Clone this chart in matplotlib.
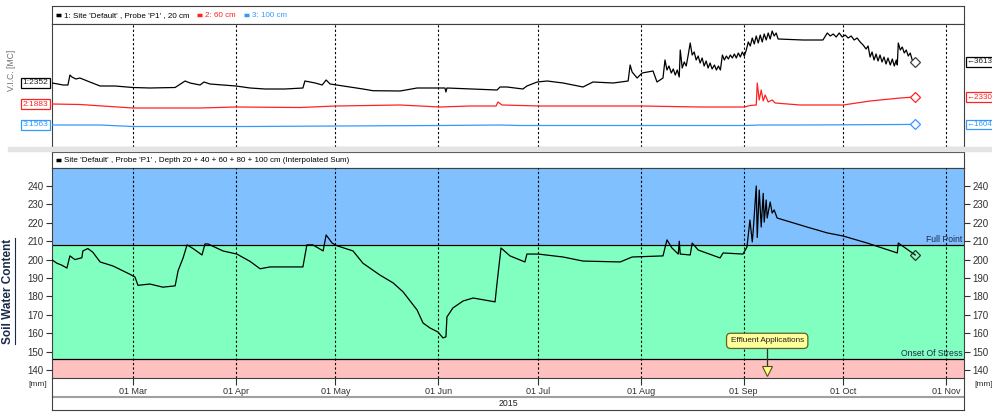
import matplotlib
matplotlib.use("Agg")
import matplotlib.pyplot as plt
import matplotlib.transforms as mtransforms
from matplotlib.lines import Line2D
from matplotlib.patches import Rectangle
import numpy as np

plt.rcParams['font.family'] = ['Liberation Sans', 'DejaVu Sans']
plt.rcParams['font.size'] = 7

W, H = 992, 412

# x axis is day of year 2015 (1 Jan = 0)
month_days = [59, 90, 120, 151, 181, 212, 243, 273, 304]
month_labels = ["01 Mar", "01 Apr", "01 May", "01 Jun", "01 Jul", "01 Aug", "01 Sep", "01 Oct", "01 Nov"]
x_start, x_end = 34.6, 309.4
year_label = "2015"

# top panel: V.I.C. readings per depth
vic20_days = [34.6, 36.4, 37.9, 39.4, 40.0, 40.6, 41.8, 43.0, 44.5, 46.0, 49.1, 53.6, 59.0, 64.1,
              71.7, 74.7, 76.2, 79.2, 80.4, 82.2, 90.0, 94.3, 98.8, 104.8, 110.2, 110.8, 113.9,
              116.0, 117.2, 118.4, 128.3, 131.3, 139.5, 144.6, 151.5, 153.0, 153.3, 153.6, 168.7,
              169.6, 171.7, 176.5, 177.7, 180.8, 183.8, 188.6, 194.6, 197.6, 203.7, 208.2, 208.8,
              209.4, 210.9, 212.4, 215.7, 216.9,
              217.8, 218.7, 219.3, 219.9, 220.5, 221.2, 221.8, 222.4, 223.0, 223.6, 223.9, 224.5,
              225.1, 225.7, 226.3, 226.9, 227.5, 228.1, 228.7, 229.3, 229.9, 230.5, 231.1, 231.7,
              232.3, 232.9, 233.5, 234.2, 234.8, 235.4, 236.0, 236.6, 237.2, 237.8, 238.4, 239.0,
              239.6, 240.2, 240.8, 241.4, 242.0, 242.6, 243.2, 243.8, 244.4, 245.0, 245.6, 246.2,
              246.8, 247.4, 248.0, 248.6, 249.2, 249.8, 250.4, 251.0, 251.6, 252.2, 252.8, 253.4,
              260.9, 266.9, 268.2, 269.1, 270.0, 270.9, 271.8, 272.7, 273.6, 274.5, 275.4, 276.3,
              277.2, 278.1, 279.0, 279.9, 280.5, 281.1, 281.7, 282.3, 282.9, 283.5, 284.1, 284.7,
              285.3, 285.9, 286.5, 287.2, 287.8, 288.4, 289.0, 289.3, 289.6, 290.2, 290.8, 291.4,
              292.0, 292.6, 293.2, 293.8, 294.7]
vic20 = [2352, 2292, 2232, 2232, 2832, 2712, 2592, 2652, 2532, 2412, 2172, 2172, 2082, 2052,
         2082, 2472, 2352, 2232, 2412, 2292, 2172, 2052, 1992, 1992, 2052, 2472, 2352,
         2232, 2532, 2292, 1992, 1890, 1872, 2052, 2052, 2052, 1812, 2052, 1932,
         2112, 2112, 1992, 2172, 2412, 2472, 2352, 2112, 2412, 2352, 2472, 3432,
         3012, 2652, 2952, 3072, 2412,
         2532, 2652, 3732, 3132, 3372, 2952, 3192, 2832, 3132, 2712, 4332, 3252,
         3612, 3372, 4032, 4752, 4032, 4212, 3732, 3972, 3552, 3852, 3372, 3672,
         3252, 3552, 3192, 3432, 3132, 3372, 3132, 4032, 3732, 3972, 3792, 4032,
         3852, 4092, 3852, 4152, 3912, 4212, 3972, 4332, 4812, 4572, 5052, 4692,
         5172, 4752, 5232, 4812, 5292, 4932, 5352, 4992, 5472, 5172, 5352, 4992,
         4932, 4932, 5352, 5172, 5292, 5112, 5352, 5112, 5232, 5052, 5172, 4932,
         5052, 4812, 4632, 4392, 4572, 3912, 4212, 3732, 4092, 3672, 4032, 3612,
         3912, 3492, 3852, 3432, 3792, 3372, 3732, 3432, 4752, 4332, 4512, 4152,
         4332, 3972, 4152, 3732, 3613]

vic60_days = [34.6, 43.0, 59.0, 79.2, 90.0, 109.3, 120.2, 139.5, 151.5, 160.6, 168.4, 169.0,
              170.2, 181.4, 199.5, 212.2, 229.9, 243.2, 245.0, 246.8, 247.1, 247.7, 248.3,
              248.9, 249.5, 250.4, 251.6, 252.5, 260.0, 273.0, 281.1, 290.2, 294.7]
vic60 = [1883, 1851, 1627, 1627, 1691, 1659, 1755, 1819, 1691, 1755, 1755, 2011,
         1819, 1755, 1755, 1755, 1691, 1691, 1787, 1819, 3227, 2139, 2779, 2075,
         2459, 2011, 2139, 1947, 1819, 1819, 2075, 2267, 2330]

vic100_days = [34.6, 49.1, 59.0, 94.3, 120.2, 151.5, 169.6, 175.6, 205.8, 229.9, 243.5, 248.0,
               260.0, 290.2, 294.7]
vic100 = [1563, 1563, 1467, 1467, 1499, 1531, 1563, 1531, 1531, 1531, 1531, 1563,
          1563, 1595, 1604]

# bottom panel: summed soil water content [mm]
sw_days = [34.6, 36.1, 37.5, 39.1, 40.0, 41.5, 43.6, 43.9, 45.4, 46.9, 49.1, 53.0, 58.1, 59.6,
           60.5, 64.1, 68.0, 71.7, 72.6, 74.1, 75.3, 77.1, 79.8, 80.7, 81.6, 86.1, 90.3, 94.3,
           97.3, 100.3, 109.3, 110.2, 111.4, 113.2, 116.3, 117.2, 119.0, 120.5, 125.3, 128.3,
           133.4, 137.4, 140.4, 144.6, 146.4, 148.5, 150.9, 152.4, 153.3, 153.6, 155.4, 158.5,
           161.5, 168.1, 168.7, 169.9, 172.6, 177.1, 177.7, 181.1, 188.6, 194.6, 205.8, 209.4,
           218.7, 219.9, 221.4, 223.3, 223.6, 223.9, 226.9, 227.5, 229.3, 235.9, 236.8, 242.8,
           244.0, 244.9, 245.6, 245.9, 246.8, 247.1, 247.7, 248.3, 248.9, 249.2, 249.8, 250.1,
           251.0, 251.6, 252.2, 253.1, 262.1, 268.2, 273.0, 280.2, 289.3, 289.6, 294.7]
sw = [199.8, 198.0, 197.0, 195.4, 202.0, 200.0, 201.0, 204.7, 206.0, 204.0, 198.7, 196.5, 192.0, 190.5,
      186.0, 186.7, 185.0, 185.7, 194.0, 200.9, 208.0, 206.0, 202.5, 208.5, 208.5, 204.7, 203.0, 199.0,
      195.0, 196.0, 196.0, 196.0, 208.0, 208.0, 204.7, 213.4, 209.0, 207.5, 204.7, 198.0,
      191.6, 187.3, 182.4, 172.6, 165.5, 162.8, 160.6, 157.4, 158.0, 168.8, 173.7, 177.5,
      179.1, 177.0, 187.3, 206.3, 202.0, 198.7, 203.0, 203.0, 201.4, 199.2, 198.7, 201.4,
      202.0, 210.7, 206.3, 203.0, 210.0, 203.0, 202.5, 209.0, 205.2, 200.9, 203.6, 203.0,
      206.8, 221.5, 209.6, 216.0, 240.0, 212.0, 237.8, 217.7, 236.0, 220.4, 232.4, 222.6,
      231.3, 225.3, 227.0, 222.6, 217.7, 214.5, 212.8, 209.0, 203.6, 209.0, 202.5]

full_point = 208
onset_of_stress = 146
sw_ylim = (135.6, 249.8)
sw_ticks = [140, 150, 160, 170, 180, 190, 200, 210, 220, 230, 240]
effluent_day = 250.1

black = "#000000"
red = "#FF2222"
blue = "#3399FF"
frame = "#404040"
navy = "#1A2A4A"


def px_box(x0, y0, x1, y1):
    return [x0 / W, 1 - y1 / H, (x1 - x0) / W, (y1 - y0) / H]


def header(fig, ax, items):
    renderer = fig.canvas.get_renderer()
    ax.set_xlim(0, 912)
    ax.set_ylim(0, 1)
    ax.set_xticks([])
    ax.set_yticks([])
    for s in ax.spines.values():
        s.set_color(frame)
    x = 4
    for label, color in items:
        ax.plot([x, x + 5], [0.5, 0.5], color=color, lw=2.5, solid_capstyle='butt')
        t = ax.text(x + 8, 0.48, label, color=color, va='center', ha='left', fontsize=5.8)
        x = x + 8 + t.get_window_extent(renderer).width + 8


def month_lines(ax):
    for d in month_days:
        ax.axvline(d, color='k', lw=0.8, ls=(0, (2, 2)), zorder=3)


fig = plt.figure(figsize=(W / 100, H / 100), dpi=100)
fig.patches.append(Rectangle((8 / W, 1 - 151 / H), 1, 4 / H, transform=fig.transFigure,
                             color="#E4E4E4", zorder=0))

# ---- top panel ----
hdr1 = fig.add_axes(px_box(52, 6, 964, 24))
header(fig, hdr1, [("1: Site 'Default' , Probe 'P1' , 20 cm", black),
                   ("2: 60 cm", red), ("3: 100 cm", blue)])

ax1 = fig.add_axes(px_box(52, 24, 964, 147))
ax1r = ax1.twinx()
ax1b = ax1.twinx()
series = [(ax1, vic20_days, vic20, black, (-1488, 5892), "1", "#404040"),
          (ax1r, vic60_days, vic60, red, (-869, 7003), "2", red),
          (ax1b, vic100_days, vic100, blue, (155, 8027), "3", blue)]
for ax, days, vals, color, lim, num, mec in series:
    ax.plot(days, vals, color=color, lw=0.9, zorder=4)
    ax.plot(days[-1], vals[-1], marker='D', ms=5, mfc='white', mec=mec, mew=0.9, zorder=5)
    ax.set_ylim(*lim)
    ax.set_yticks([])
    ax.set_xlim(x_start, x_end)
    trans = mtransforms.blended_transform_factory(ax.transAxes, ax.transData)
    tc = color if color != black else '#202020'
    ax.text(-0.004, vals[0], "%s:%d" % (num, vals[0]), transform=trans, ha='right', va='center',
            color=tc, fontsize=6,
            bbox=dict(boxstyle='square,pad=0.2', fc='white', ec=color, lw=0.9))
    ax.text(1.003, vals[-1], "\u2190%d" % vals[-1], transform=trans, ha='left', va='center',
            color=tc, fontsize=5.8,
            bbox=dict(boxstyle='square,pad=0.15', fc='white', ec=color, lw=0.9))
for ax in (ax1r, ax1b):
    for s in ax.spines.values():
        s.set_visible(False)
    ax.tick_params(right=False, labelright=False)
ax1.set_xticks([])
for s in ax1.spines.values():
    s.set_color(frame)
month_lines(ax1)
fig.text(12 / W, 1 - 70 / H, "V.I.C. [MC]", rotation=90, ha='center', va='center',
         color='#707070', fontsize=6.2)

# ---- bottom panel ----
hdr2 = fig.add_axes(px_box(52, 152, 964, 168))
header(fig, hdr2, [("Site 'Default' , Probe 'P1' , Depth 20 + 40 + 60 + 80 + 100 cm (Interpolated Sum)", black)])

strip = fig.add_axes(px_box(52, 378, 964, 410))
strip.set_xticks([])
strip.set_yticks([])
strip.patch.set_visible(False)
strip.spines['top'].set_visible(False)
for s in ('left', 'right', 'bottom'):
    strip.spines[s].set_color(frame)
strip.axhline(0.4, color='#A0A0A0', lw=1.5)
strip.text(0.5, 0.2, year_label, ha='center', va='center', fontsize=6.3, color='#202020')

ax2 = fig.add_axes(px_box(52, 168, 964, 378))
ax2.axhspan(full_point, sw_ylim[1], color="#80C0FF", zorder=0)
ax2.axhspan(onset_of_stress, full_point, color="#80FFC0", zorder=0)
ax2.axhspan(sw_ylim[0], onset_of_stress, color="#FFC0C0", zorder=0)
ax2.axhline(full_point, color='k', lw=0.9, zorder=2)
ax2.axhline(onset_of_stress, color='k', lw=0.9, zorder=2)
month_lines(ax2)
ax2.plot(sw_days, sw, color='k', lw=0.9, zorder=4)
ax2.plot(sw_days[-1], sw[-1], marker='D', ms=5, mfc='none', mec='#303030', mew=0.9, zorder=5)
ax2.set_xlim(x_start, x_end)
ax2.set_ylim(*sw_ylim)
ax2.set_xticks(month_days)
ax2.set_xticklabels(month_labels)
ax2.set_yticks(sw_ticks)
ax2.tick_params(axis='y', left=True, right=True, labelleft=True, labelright=True,
                direction='out', length=4, pad=2, colors='#303030', labelsize=7)
ax2.tick_params(axis='x', direction='out', length=5, pad=1.5, colors='#303030', labelsize=6.5)
for s in ax2.spines.values():
    s.set_color(frame)

band_trans = mtransforms.blended_transform_factory(ax2.transAxes, ax2.transData)
ax2.text(0.998, full_point + 0.5, "Full Point", transform=band_trans, ha='right', va='bottom',
         color=navy, fontsize=6.2)
ax2.text(0.998, onset_of_stress + 0.5, "Onset Of Stress", transform=band_trans, ha='right',
         va='bottom', color=navy, fontsize=6.2)

# effluent event marker
ax2.plot([effluent_day, effluent_day], [139.5, 155.8], color='#303030', lw=0.9, zorder=5)
ax2.plot(effluent_day, 139.5, marker='v', ms=7, mfc='#FFFF80', mec='#505020', mew=0.8, zorder=6)
ax2.text(effluent_day, 155.8, "Effluent Applications", ha='center', va='center', fontsize=5.9,
         color='#202020', zorder=7,
         bbox=dict(boxstyle='round,pad=0.5,rounding_size=0.5', fc='#FFFF99', ec='#606030', lw=0.9))

fig.text(38 / W, 1 - 385 / H, "[mm]", ha='center', va='center', fontsize=6, color='#303030')
fig.text(984 / W, 1 - 385 / H, "[mm]", ha='center', va='center', fontsize=6, color='#303030')

lab = fig.text(8 / W, 1 - 291 / H, "Soil Water Content", rotation=90, ha='center', va='center',
               fontsize=8.5, weight='bold', color=navy)
fig.canvas.draw()
bb = lab.get_window_extent(fig.canvas.get_renderer())
fig.add_artist(Line2D([(bb.x1 + 0.5) / W] * 2, [bb.y0 / H, bb.y1 / H], color=navy, lw=0.8,
                      transform=fig.transFigure))

fig.savefig("out.png", dpi=100)
